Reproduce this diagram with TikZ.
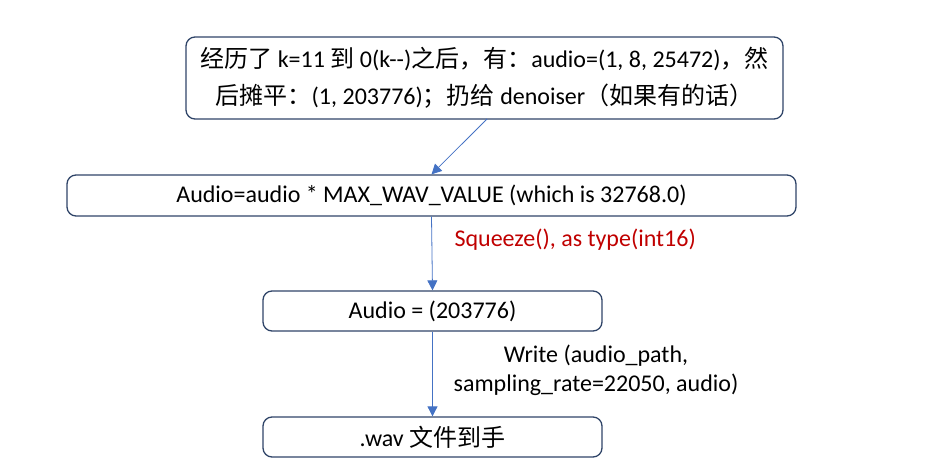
\documentclass[tikz,border=0pt]{standalone}
\usepackage{fontspec}
\usetikzlibrary{arrows.meta}
\setmainfont{Carlito}
\newfontfamily\cjk{Noto Sans CJK SC}
\definecolor{boxline}{HTML}{2F4468}
\definecolor{arrowline}{HTML}{4472C4}
\definecolor{notered}{HTML}{C00000}
\begin{document}
\begin{tikzpicture}[
              x=1pt, y=-1pt,
              font=\fontsize{24}{37}\selectfont,
              stepbox/.style={draw=boxline, line width=1.3pt, rounded corners=9pt, align=center, inner sep=0pt},
              flow/.style={draw=arrowline, line width=0.8pt, -{Triangle[length=10pt,width=10pt]}},
              note/.style={align=center}
            ]
            \useasboundingbox (0,0) rectangle (951,473);

            % Box: after k=11 to 0
            \node[stepbox, minimum width=597pt, minimum height=82pt] (flat) at (484.5,78)
              {{\cjk 经历了} k=11 {\cjk 到} 0(k-{}-){\cjk 之后，有：}audio=(1, 8, 25472){\cjk ，然}\\
               {\cjk 后摊平：}(1, 203776){\cjk ；扔给} denoiser{\cjk （如果有的话）}};

            % Box: scaling
            \node[stepbox, minimum width=729pt, minimum height=41pt] (scale) at (431.5,195.5)
              {Audio=audio * MAX\_WAV\_VALUE (which is 32768.0)};

            % Box: squeezed audio
            \node[stepbox, minimum width=339pt, minimum height=40pt] (squeezed) at (432.5,311)
              {Audio = (203776)};

            % Box: wav file
            \node[stepbox, minimum width=339pt, minimum height=40pt] (wav) at (432.5,437)
              {.wav {\cjk 文件到手}};

            % Arrows
            \coordinate (flatout) at (487,119);
            \draw[flow] (flatout) -- (scale.north);
            \draw[flow] (scale.south) -- (squeezed.north);
            \draw[flow] (squeezed.south) -- (wav.north);

            % Labels
            \node[note, anchor=west, text=notered] (squeezelabel) at (451,240) {Squeeze(), as type(int16)};
            \node[note, font=\fontsize{24}{29}\selectfont] (writelabel) at (596,370)
              {Write (audio\_path,\\sampling\_rate=22050, audio)};
\end{tikzpicture}
\end{document}
